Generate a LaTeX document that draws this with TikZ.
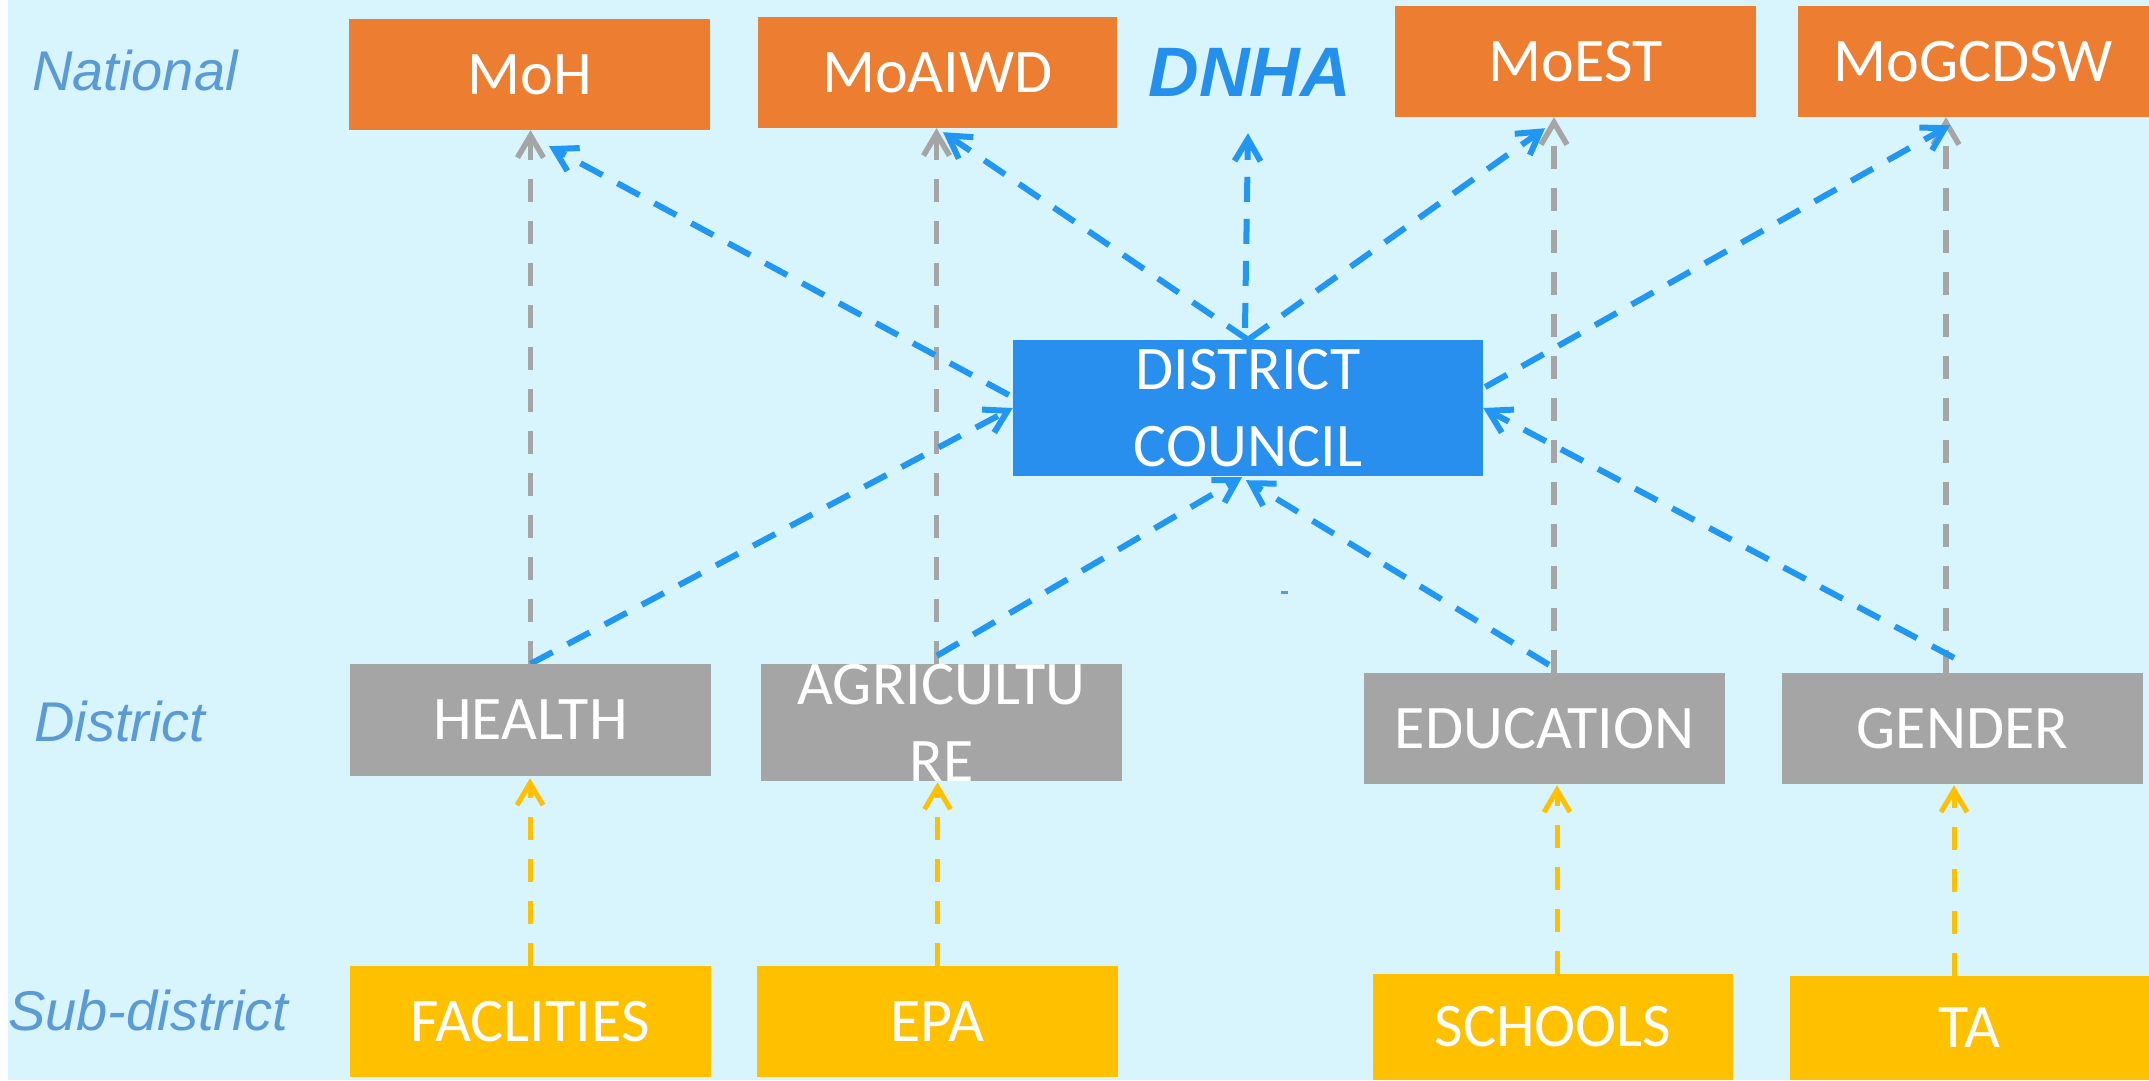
\documentclass[tikz,border=0pt]{standalone}
\usepackage{fontspec}
\setmainfont{Carlito}
\newfontfamily\labelfont{Liberation Sans}
\usetikzlibrary{arrows.meta,calc}

\pgfdeclarelayer{back}
\pgfdeclarelayer{lines}
\pgfsetlayers{back,lines,main}

\definecolor{bgcyan}{HTML}{D8F4FD}
\definecolor{natorange}{HTML}{ED7D31}
\definecolor{distgray}{HTML}{A5A5A5}
\definecolor{subyellow}{HTML}{FFC000}
\definecolor{councilblue}{HTML}{288FEE}
\definecolor{linkblue}{HTML}{2196F3}
\definecolor{levelblue}{HTML}{5B9BD5}
\definecolor{dnhablue}{HTML}{2590EB}

\begin{document}
\begin{tikzpicture}[x=1pt,y=-1pt,
  box/.style={rectangle, inner sep=0pt, text=white, align=center,
    font=\fontsize{62}{77}\selectfont},
  natbox/.style={box, fill=natorange, minimum width=361pt, minimum height=111pt},
  distbox/.style={box, fill=distgray, minimum width=361pt, minimum height=111pt},
  subbox/.style={box, fill=subyellow, minimum width=361pt, minimum height=111pt},
  councilbox/.style={box, fill=councilblue, minimum width=470pt, minimum height=136pt},
  levellabel/.style={inner sep=0pt, anchor=base west, text=levelblue,
    font=\labelfont\itshape\fontsize{56}{60}\selectfont},
  tiphead/.style={-{Straight Barb[length=22pt,width=26pt]}},
  graylink/.style={tiphead, draw=distgray, line width=5.5pt, dash pattern=on 23pt off 19pt},
  yellink/.style={tiphead, draw=subyellow, line width=5pt, dash pattern=on 23pt off 19pt},
  bluelink/.style={tiphead, draw=linkblue, line width=6pt, dash pattern=on 25pt off 17pt},
]
\useasboundingbox (0,0) rectangle (2149,1080);
\begin{pgfonlayer}{back}
  \fill[white] (0,0) rectangle (2149,1080);
  \fill[bgcyan] (8,0) rectangle (2149,1080);
  \fill[levelblue] (1281,591) rectangle (1288,594);
\end{pgfonlayer}

% level captions
\node[levellabel] (lnat) at (32,90) {National};
\node[levellabel] (ldist) at (34,741) {District};
\node[levellabel] (lsub) at (8,1030) {Sub-district};

% national ministries
\node[natbox] (moh) at (529.5,74.5) {MoH};
\node[natbox, minimum width=359pt] (moaiwd) at (937.5,72.5) {MoAIWD};
\node[inner sep=0pt, anchor=base, text=dnhablue,
  font=\labelfont\bfseries\itshape\fontsize{70}{80}\selectfont] (dnha) at (1250,96) {DNHA};
\node[natbox] (moest) at (1575.5,61.5) {MoEST};
\node[natbox, minimum width=351pt] (mogcdsw) at (1973.5,61.5) {MoGCDSW};

% district council
\node[councilbox] (dc) at (1248,408) {DISTRICT\\COUNCIL};

% district offices
\node[distbox, minimum height=112pt] (health) at (530.5,720) {HEALTH};
\node[distbox] (agri) at (941.5,722.5) {AGRICULTU\\RE};
\node[distbox] (edu) at (1544.5,728.5) {EDUCATION};
\node[distbox] (gender) at (1962.5,728.5) {GENDER};

% sub-district units
\node[subbox] (fac) at (530,1021.5) {FACLITIES};
\node[subbox] (epa) at (937.5,1021.5) {EPA};
\node[subbox, minimum width=360pt, minimum height=106pt] (schools) at (1553,1027) {SCHOOLS};
\node[subbox, minimum width=359pt, minimum height=104pt] (ta) at (1969.5,1028) {TA};

\coordinate (agtop) at ($(agri.north)+(-5,0)$);
\coordinate (edtop) at ($(edu.north)+(9.5,0)$);
\coordinate (gntop) at ($(gender.north)+(-16.5,0)$);
\coordinate (sctop) at ($(schools.north)+(4,0)$);
\coordinate (tatop) at ($(ta.north)+(-15.5,0)$);

\begin{pgfonlayer}{lines}
  % district offices report to their ministries
  \draw[graylink] (health.north) -- (health.north |- moh.south);
  \draw[graylink] (agtop) -- (agtop |- moaiwd.south);
  \draw[graylink] (edtop) -- (edtop |- moest.south);
  \draw[graylink] (gntop) -- (gntop |- mogcdsw.south);

  % district council to national level
  \draw[bluelink] ($(dc.west)+(-4,-13)$) -- ($(moh.south)+(19.5,16)$);
  \draw[bluelink] (dc.north) -- ($(moaiwd.south)+(5.5,4)$);
  \draw[bluelink] ($(dc.north)+(-3,-12)$) -- ($(dnha.south)+(-2,37)$);
  \draw[bluelink] (dc.north) -- ($(moest.south)+(-30.5,11)$);
  \draw[bluelink] ($(dc.east)+(2,-21)$) -- ($(mogcdsw.south)+(-23.5,8)$);

  % district offices to district council
  \draw[bluelink] (health.north) -- (dc.west);
  \draw[bluelink] ($(agri.north)+(-4.5,-8)$) -- ($(dc.south)+(-6,1)$);
  \draw[bluelink] ($(edu.north)+(4.5,-8)$) -- ($(dc.south)+(-2,4)$);
  \draw[bluelink] ($(gender.north)+(-8.5,-15)$) -- (dc.east);

  % sub-district units to district offices
  \draw[yellink] (fac.north) -- ($(fac.north |- health.south)+(0,2)$);
  \draw[yellink] (epa.north) -- ($(epa.north |- agri.south)+(0,1)$);
  \draw[yellink] (sctop) -- ($(sctop |- edu.south)+(0,1)$);
  \draw[yellink] (tatop) -- ($(tatop |- gender.south)+(0,1)$);
\end{pgfonlayer}
\end{tikzpicture}
\end{document}
